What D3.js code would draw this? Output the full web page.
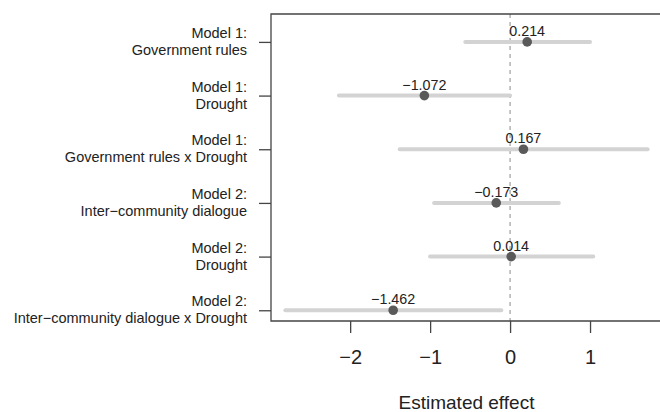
<!DOCTYPE html>
<html>
<head>
<meta charset="utf-8">
<script src="https://cdn.jsdelivr.net/npm/d3@7"></script>
<style>
  body { margin: 0; background: #fff; }
  svg { font-family: "Liberation Sans", Arial, Helvetica, sans-serif; }
</style>
</head>
<body>
<svg></svg>
<script>
var width = 660;
var height = 412;

// data
var modelNames = ["Model 1:", "Model 1:", "Model 1:", "Model 2:", "Model 2:", "Model 2:"];
var termNames = ["Government rules", "Drought", "Government rules x Drought",
  "Inter\u2212community dialogue", "Drought", "Inter\u2212community dialogue x Drought"];
var estimates = [0.214, -1.072, 0.167, -0.173, 0.014, -1.462];
var lower = [-0.56, -2.14, -1.38, -0.95, -1.0, -2.81];
var upper = [1.0, 0.0, 1.72, 0.61, 1.04, -0.11];
var xTicks = [-2, -1, 0, 1];

var rows = estimates.map(function(d, i) {
  return { model: modelNames[i], term: termNames[i], est: d, lo: lower[i], hi: upper[i], idx: i + 1 };
});

var svg = d3.select("svg")
  .attr("width", width)
  .attr("height", height);

// plot region (right edge sits just past the picture)
var plot = { left: 271, right: 662, top: 14, bottom: 321 };

var x = d3.scaleLinear()
  .domain([-2.99, 1.9])
  .range([plot.left, plot.right]);

var y = d3.scaleLinear()
  .domain([0.48, 6.2])
  .range([plot.top, plot.bottom]);

var fmt = function(v) { return d3.format(".3f")(v).replace("-", "\u2212"); };

// zero reference line
svg.append("line")
  .attr("x1", x(0)).attr("x2", x(0))
  .attr("y1", plot.top).attr("y2", plot.bottom)
  .attr("stroke", "#8a8a8a")
  .attr("stroke-width", 1)
  .attr("stroke-dasharray", "4,4");

// confidence intervals
svg.append("g").selectAll("line")
  .data(rows)
  .enter()
  .append("line")
  .attr("x1", function(d) { return x(d.lo); })
  .attr("x2", function(d) { return x(d.hi); })
  .attr("y1", function(d) { return y(d.idx); })
  .attr("y2", function(d) { return y(d.idx); })
  .attr("stroke", "#d3d3d3")
  .attr("stroke-width", 4)
  .attr("stroke-linecap", "round");

// point estimates
svg.append("g").selectAll("circle")
  .data(rows)
  .enter()
  .append("circle")
  .attr("cx", function(d) { return x(d.est); })
  .attr("cy", function(d) { return y(d.idx); })
  .attr("r", 4.8)
  .attr("fill", "#5a5a5a");

// estimate labels
svg.append("g").selectAll("text")
  .data(rows)
  .enter()
  .append("text")
  .attr("x", function(d) { return x(d.est); })
  .attr("y", function(d) { return y(d.idx) - 6; })
  .attr("text-anchor", "middle")
  .attr("font-size", 14.3)
  .attr("fill", "#222")
  .text(function(d) { return fmt(d.est); });

// frame: left, top and bottom
var frameColor = "#444";
svg.append("path")
  .attr("d", "M" + plot.right + "," + plot.top + "H" + plot.left + "V" + plot.bottom + "H" + plot.right)
  .attr("fill", "none")
  .attr("stroke", frameColor)
  .attr("stroke-width", 1.3);

// x axis
var xAxis = svg.append("g")
  .attr("transform", "translate(0," + plot.bottom + ")")
  .call(d3.axisBottom(x).tickValues(xTicks).tickSize(12).tickPadding(17)
    .tickFormat(function(d) { return String(d).replace("-", "\u2212"); }));
xAxis.select(".domain").remove();
xAxis.selectAll("line").attr("stroke", frameColor).attr("stroke-width", 1.3);
xAxis.selectAll("text")
  .attr("font-size", 20)
  .attr("font-family", null)
  .attr("fill", "#222");

svg.append("text")
  .attr("x", (plot.left + plot.right) / 2)
  .attr("y", 409)
  .attr("text-anchor", "middle")
  .attr("font-size", 19)
  .attr("fill", "#222")
  .text("Estimated effect");

// y axis ticks and labels
var yAxis = svg.append("g")
  .attr("transform", "translate(" + plot.left + ",0)")
  .call(d3.axisLeft(y).tickValues(rows.map(function(d) { return d.idx; })).tickSize(12).tickFormat(""));
yAxis.select(".domain").remove();
yAxis.selectAll("line").attr("stroke", frameColor).attr("stroke-width", 1.3);

var labels = svg.append("g").selectAll("text")
  .data(rows)
  .enter()
  .append("text")
  .attr("text-anchor", "end")
  .attr("font-size", 14.5)
  .attr("fill", "#222");
labels.append("tspan")
  .attr("x", 247)
  .attr("y", function(d) { return y(d.idx) - 4; })
  .text(function(d) { return d.model; });
labels.append("tspan")
  .attr("x", 247)
  .attr("y", function(d) { return y(d.idx) + 13; })
  .text(function(d) { return d.term; });
</script>
</body>
</html>
